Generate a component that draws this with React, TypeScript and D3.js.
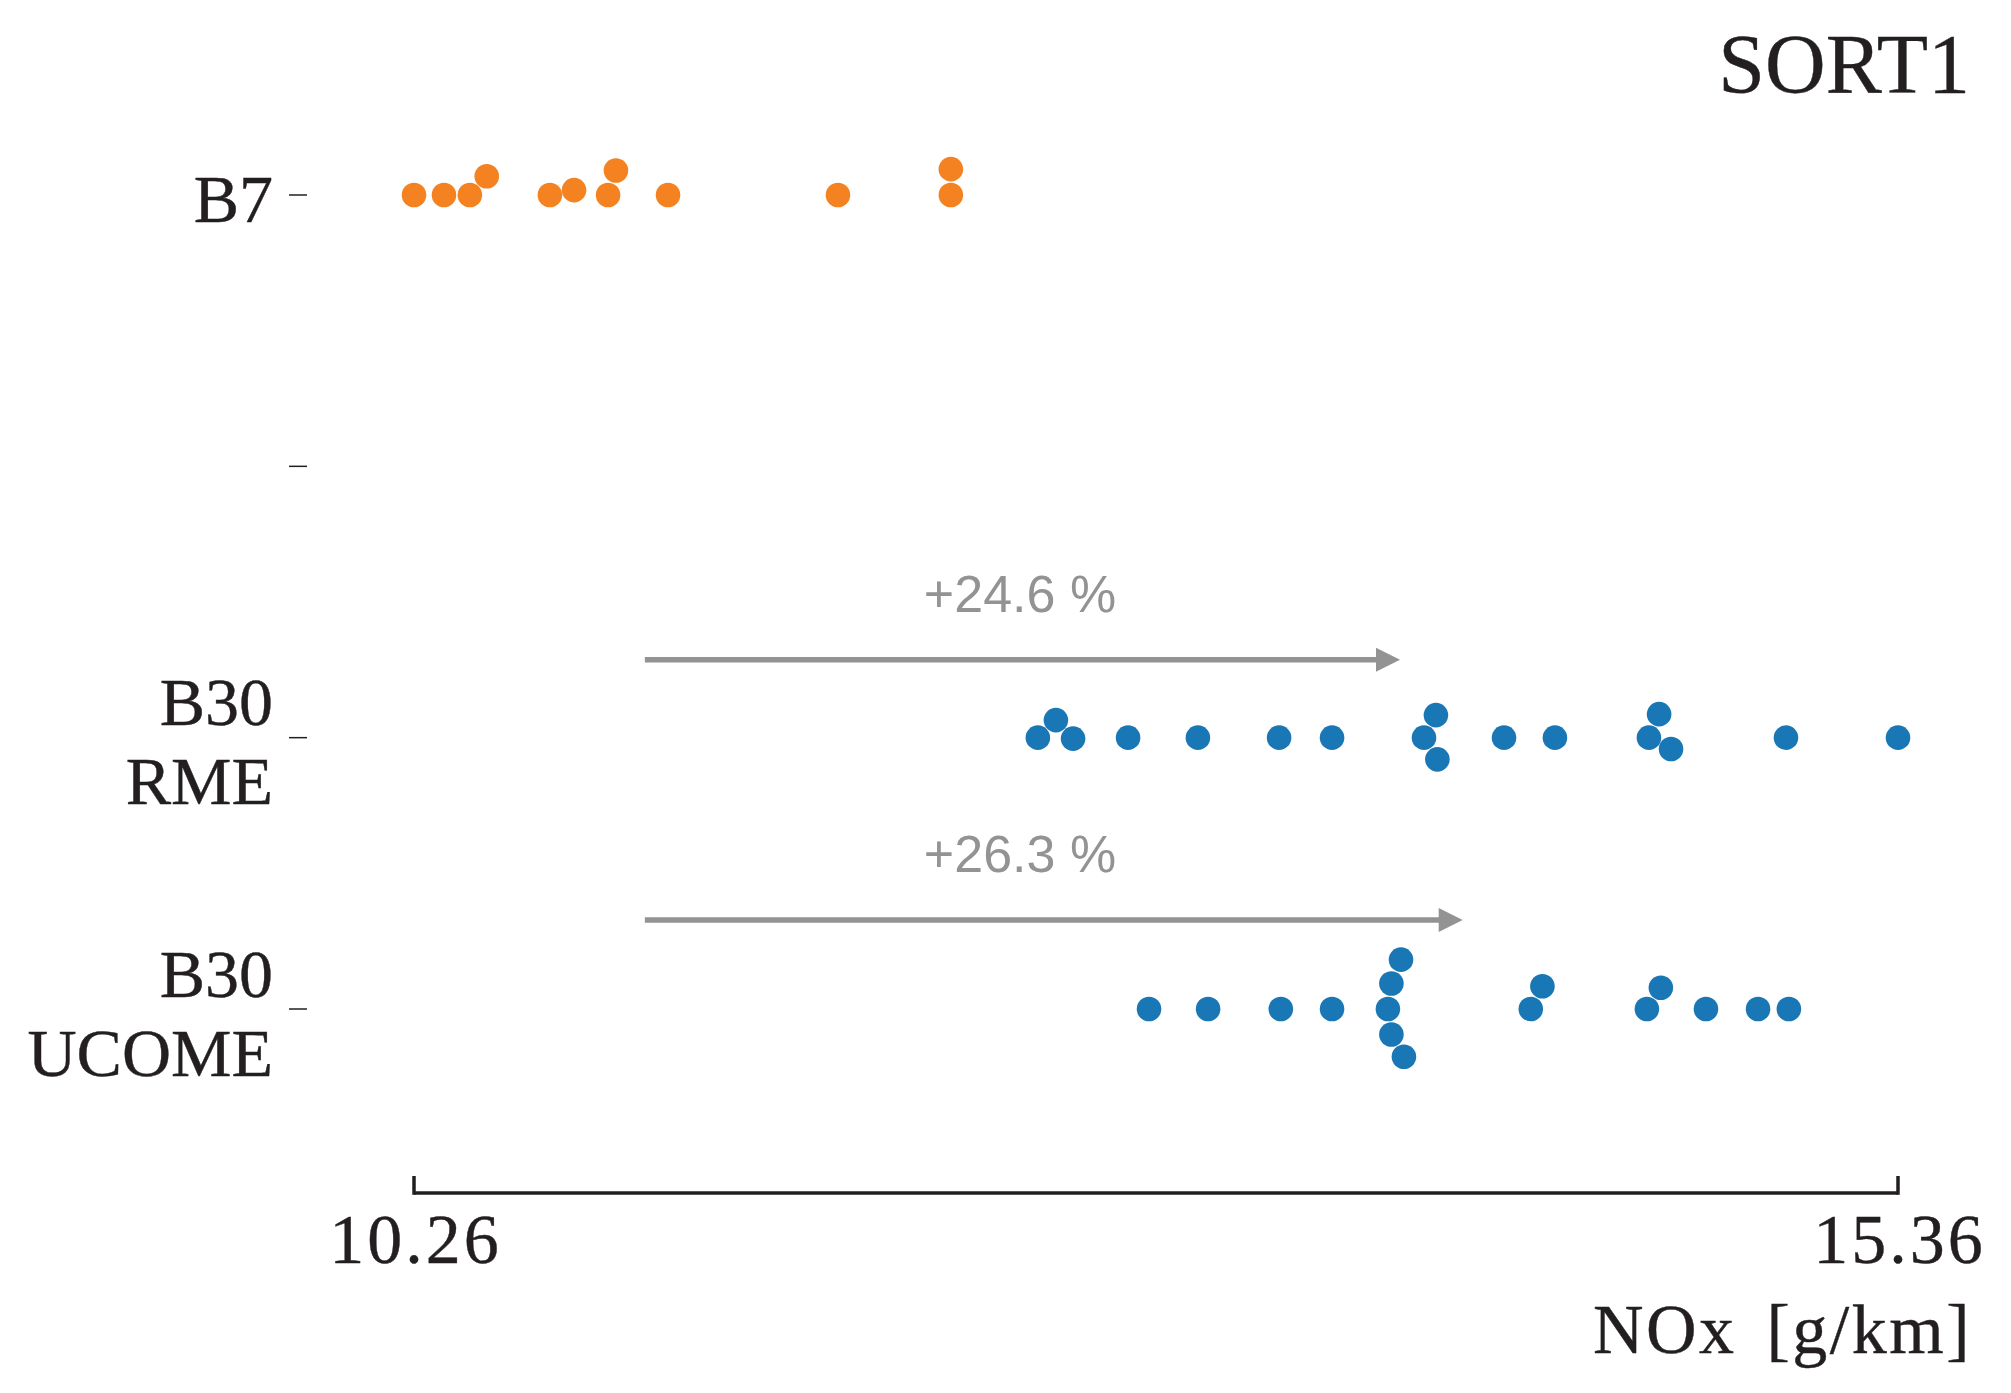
import React from "react";
import * as d3 from "d3";

// ---------- data ----------
const categoryLabels: string[][] = [["B7"], [], ["B30", "RME"], ["B30", "UCOME"]];

const b7Values = [10.26, 10.363, 10.452, 10.51, 10.727, 10.81, 10.927, 10.954, 11.133, 11.717, 12.105, 12.105];
const rmeValues = [12.404, 12.466, 12.525, 12.714, 12.954, 13.233, 13.415, 13.731, 13.772, 13.777, 14.006, 14.181, 14.504, 14.539, 14.58, 14.975, 15.36];
const ucomeValues = [12.786, 12.989, 13.239, 13.415, 13.607, 13.619, 13.619, 13.652, 13.662, 14.098, 14.138, 14.497, 14.545, 14.7, 14.879, 14.985];

const xDomain = [10.26, 15.36];
const xTickValues = [10.26, 15.36];
const xTickLabels = ["10.26", "15.36"];

const titleText = "SORT1";
const xAxisLabel = "NOx [g/km]";

// ---------- layout / style ----------
const W = 2011;
const H = 1393;
const X0 = 414;
const X1 = 1898;
const Y_TOP = 195;
const Y_BOTTOM = 1009;
const AXIS_Y = 1193;
const R = 12.3;
const ORANGE = "#f58220";
const BLUE = "#1a77b5";
const GRAY = "#939393";
const INK = "#231f20";
const SERIF = "'Liberation Serif', 'Times New Roman', serif";
const SANS = "'Liberation Sans', Arial, sans-serif";

const series = [
  { values: b7Values, category: 0, color: ORANGE },
  { values: rmeValues, category: 2, color: BLUE },
  { values: ucomeValues, category: 3, color: BLUE },
];

// arrows from B7 mean to group mean
const arrows = [
  { values: rmeValues, category: 2, dy: -78, shrinkB: 19 },
  { values: ucomeValues, category: 3, dy: -89, shrinkB: 11 },
];

const xScale = d3.scaleLinear().domain(xDomain).range([X0, X1]);
const yScale = d3
  .scalePoint<string>()
  .domain(categoryLabels.map((_, i) => String(i)))
  .range([Y_TOP, Y_BOTTOM]);

// seaborn-like beeswarm (offsets in pixels, perpendicular to value axis)
function swarm(values: number[], r: number) {
  const pts = values
    .map((v, i) => ({ v, px: xScale(v), i }))
    .sort((a, b) => a.px - b.px || a.i - b.i);
  const placed: { px: number; off: number; v: number }[] = [];
  const sep2 = 4 * r * r;
  for (const p of pts) {
    const neighbors = placed.filter((q) => p.px - q.px < 2 * r);
    const cands: number[] = [0];
    let leftFirst = true;
    for (const q of neighbors) {
      const dx = p.px - q.px;
      const d = Math.sqrt(Math.max(sep2 - dx * dx, 0)) * 1.05;
      const up = q.off - d;
      const down = q.off + d;
      if (leftFirst) cands.push(up, down);
      else cands.push(down, up);
      leftFirst = !leftFirst;
    }
    const order = cands
      .map((c, k) => ({ c, k }))
      .sort((a, b) => Math.abs(a.c) - Math.abs(b.c) || a.k - b.k);
    let chosen = 0;
    for (const { c } of order) {
      const ok = neighbors.every((q) => (p.px - q.px) ** 2 + (c - q.off) ** 2 >= sep2);
      if (ok) {
        chosen = c;
        break;
      }
    }
    placed.push({ px: p.px, off: chosen, v: p.v });
  }
  return placed;
}

export default function App() {
  const b7Mean = d3.mean(b7Values) as number;
  const labelX = 1020;
  const shrinkA = 14;
  const headLen = 24;
  const headHalf = 12;
  const LINE_SP = 79;

  return (
    <svg
      width={W}
      height={H}
      viewBox={`0 0 ${W} ${H}`}
      style={{ position: "absolute", left: 0, top: 0, display: "block", background: "#fff" }}
    >
      <rect x={0} y={0} width={W} height={H} fill="#fff" />

      {/* title */}
      <text x={1970} y={93} textAnchor="end" fontFamily={SERIF} fontSize={84} fill={INK} stroke={INK} strokeWidth={0.4}>
        {titleText}
      </text>

      {/* y ticks and labels */}
      {categoryLabels.map((lines, i) => {
        const cy = yScale(String(i)) as number;
        const n = lines.length;
        const first = cy + 27 - ((n - 1) * LINE_SP) / 2;
        return (
          <g key={i}>
            <line x1={289} x2={307} y1={cy} y2={cy} stroke={INK} strokeWidth={1.5} />
            {lines.map((ln, k) => (
              <text
                key={k}
                x={273}
                y={first + k * LINE_SP}
                textAnchor="end"
                fontFamily={SERIF}
                fontSize={68}
                fill={INK}
                stroke={INK}
                strokeWidth={0.4}
              >
                {ln}
              </text>
            ))}
          </g>
        );
      })}

      {/* x axis */}
      <line
        x1={xScale(xDomain[0])}
        x2={xScale(xDomain[1])}
        y1={AXIS_Y}
        y2={AXIS_Y}
        stroke={INK}
        strokeWidth={3.5}
      />
      {xTickValues.map((t, i) => (
        <g key={i}>
          <line x1={xScale(t)} x2={xScale(t)} y1={AXIS_Y + 1.75} y2={AXIS_Y - 17} stroke={INK} strokeWidth={3.5} />
          <text
            x={xScale(t) + 1.5}
            y={1263}
            textAnchor="middle"
            fontFamily={SERIF}
            fontSize={70}
            letterSpacing={3}
            fill={INK}
            stroke={INK}
            strokeWidth={0.4}
          >
            {xTickLabels[i]}
          </text>
        </g>
      ))}
      <text
        x={1972}
        y={1353}
        textAnchor="end"
        fontFamily={SERIF}
        fontSize={70}
        letterSpacing={2.5}
        wordSpacing={10}
        fill={INK}
        stroke={INK}
        strokeWidth={0.4}
      >
        {xAxisLabel}
      </text>

      {/* arrows */}
      {arrows.map((a, i) => {
        const m = d3.mean(a.values) as number;
        const y = (yScale(String(a.category)) as number) + a.dy;
        const xs = xScale(b7Mean) + shrinkA;
        const xe = xScale(m) - a.shrinkB;
        const pct = ((m / b7Mean - 1) * 100).toFixed(1);
        return (
          <g key={i}>
            <line x1={xs} x2={xe - headLen + 2} y1={y} y2={y} stroke={GRAY} strokeWidth={5.5} />
            <path
              d={`M${xe},${y} L${xe - headLen},${y - headHalf} L${xe - headLen},${y + headHalf} Z`}
              fill={GRAY}
            />
            <text x={labelX} y={y - 48} textAnchor="middle" fontFamily={SANS} fontSize={52} fill={GRAY}>
              {`+${pct} %`}
            </text>
          </g>
        );
      })}

      {/* swarms */}
      {series.map((s, si) => {
        const cy = yScale(String(s.category)) as number;
        const pts = swarm(s.values, R);
        return (
          <g key={si}>
            {pts.map((p, k) => (
              <circle key={k} cx={p.px} cy={cy + p.off} r={R} fill={s.color} />
            ))}
          </g>
        );
      })}
    </svg>
  );
}
